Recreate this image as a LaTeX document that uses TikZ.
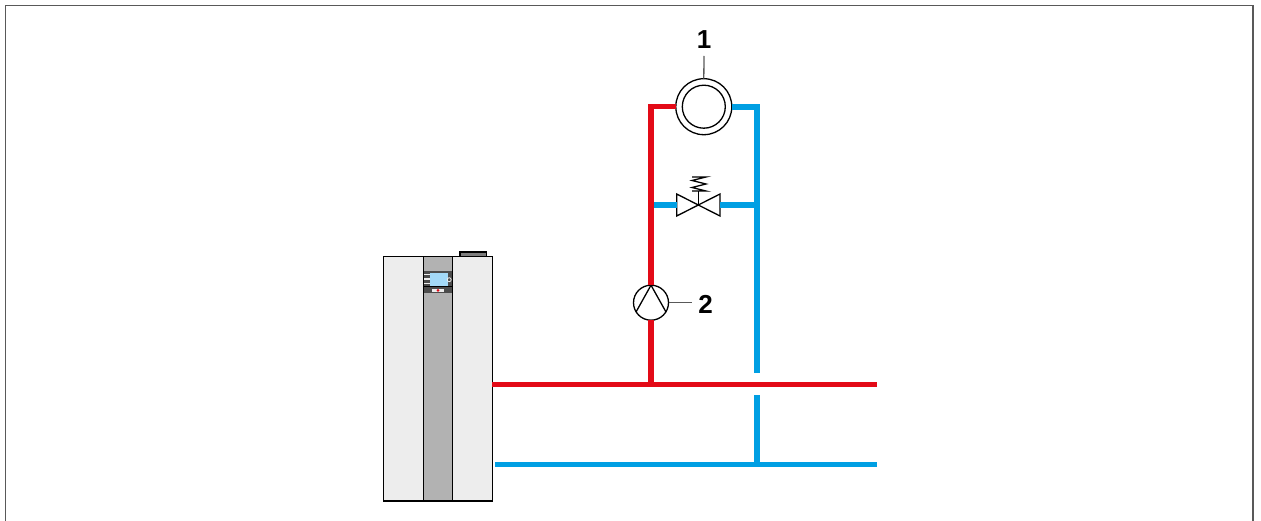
\documentclass[tikz,border=0pt]{standalone}
\usepackage{fontspec}
\setmainfont{Liberation Sans}
\usetikzlibrary{arrows.meta,positioning,calc}
\definecolor{hotred}{HTML}{E30A17}
\definecolor{coldblue}{HTML}{009FE3}
\definecolor{casing}{HTML}{EDEDED}
\definecolor{strip}{HTML}{B2B2B2}
\definecolor{screen}{HTML}{A3D9F7}
\definecolor{neutral}{gray}{0.35}
\tikzset{
  hotpipe/.style={hotred, line width=5.5pt},
  coldpipe/.style={coldblue, line width=5.8pt},
  symbol/.style={draw=black, line width=1.3pt},
  leader/.style={neutral, line width=1.3pt},
  numlabel/.style={font=\fontsize{26}{26}\selectfont\bfseries, inner sep=0pt},
  casingbox/.style={draw=black, line width=1.3pt, fill=casing},
}
\begin{document}
\begin{tikzpicture}[x=1pt, y=-1pt]
    \useasboundingbox (0,0) rectangle (1261,521);
    % frame, open at the bottom
    \draw[neutral, line width=1.4pt] (5.6,521) -- (5.6,5.5) -- (1252.9,5.5) -- (1252.9,521);
    % boiler
    \draw[casingbox, fill=strip!70!black] (460,252) rectangle (486.5,256.5);
    \node[casingbox, minimum width=109pt, minimum height=244.5pt, inner sep=0pt, outer sep=0pt, anchor=north west] (boiler) at (383.3,256.5) {};
    \node[draw=black, line width=1.3pt, fill=strip, minimum width=29pt, minimum height=244.5pt, inner sep=0pt, outer sep=0pt] (strip) at (boiler.center) {};
    \fill[black!70] (424,271) rectangle (452,293.5);
    \fill[screen] (430,273.5) rectangle (447.5,286);
    \foreach \y in {274.5,279,283.5}{
      \draw[casing, line width=1.3pt] (424,\y) -- (430,\y);
    }
    \draw[black, line width=1pt] (424,286.7) -- (452,286.7);
    \draw[casing, line width=0.8pt] (449.2,279.7) circle (2pt);
    \fill[casing] (432,288.8) rectangle (444,292);
    \fill[hotred] (438,290.4) circle (1.5pt);
    % components
    \node[symbol, circle, minimum size=56pt, inner sep=0pt, outer sep=0pt] (collector) at (703.8,106.7) {};
    \node[symbol, circle, minimum size=43pt, inner sep=0pt] (collectorin) at (703.8,106.7) {};
    \node[symbol, circle, minimum size=35pt, inner sep=0pt, outer sep=0pt] (pump) at (651,302.7) {};
    \coordinate (valve) at (698.3,205);
    \coordinate (valveL) at (676.7,205);
    \coordinate (valveR) at (720,205);
    \draw[symbol, line join=miter] (valve) -- (676.7,194) -- (676.7,216) -- cycle;
    \draw[symbol, line join=miter] (valve) -- (720,194) -- (720,216) -- cycle;
    \coordinate (springend) at (698.3,191);
    \draw[symbol] (valve) -- (springend);
    \draw[symbol] (692,177) -- (706,177) -- (692,180.5) -- (706,184) -- (692,187.5) -- (706,191) -- (692,191);
    \draw[symbol] (pump.north) -- (636,312);
    \draw[symbol] (pump.north) -- (666,312);
    % pipe ends
    \coordinate (hotend) at (877.3,384.3);
    \coordinate (hotjoin) at (651,384.3);
    \coordinate (coldstart) at (495,464.5);
    \coordinate (coldend) at (877.3,464.5);
    \coordinate (coldjoin) at (757,464.5);
    \coordinate (gaptop) at (757,373.3);
    \coordinate (gapbot) at (757,395);
    \coordinate (bypassL) at (653,205);
    \coordinate (bypassR) at (757,205);
    % cold side
    \draw[coldpipe] (collector.east) -| (gaptop);
    \draw[coldpipe] (gapbot) -- (coldjoin);
    \draw[coldpipe] (coldstart) -- (coldend);
    \draw[coldpipe] (bypassL) -- (valveL);
    \draw[coldpipe] (valveR) -- (bypassR);
    % hot side
    \draw[hotpipe] (boiler.east |- hotend) -- (hotend);
    \draw[hotpipe] (hotjoin) -- (pump.south);
    \draw[hotpipe] (pump.north) |- (collector.west);
    % labels
    \node[numlabel] (one) at (704,40) {1};
    \node[numlabel] (two) at (705.5,304) {2};
    \draw[leader] (collector.north) -- (one.south |- 0,56);
    \draw[leader] (pump.east) -- (692,302.7);
  \end{tikzpicture}
\end{document}
